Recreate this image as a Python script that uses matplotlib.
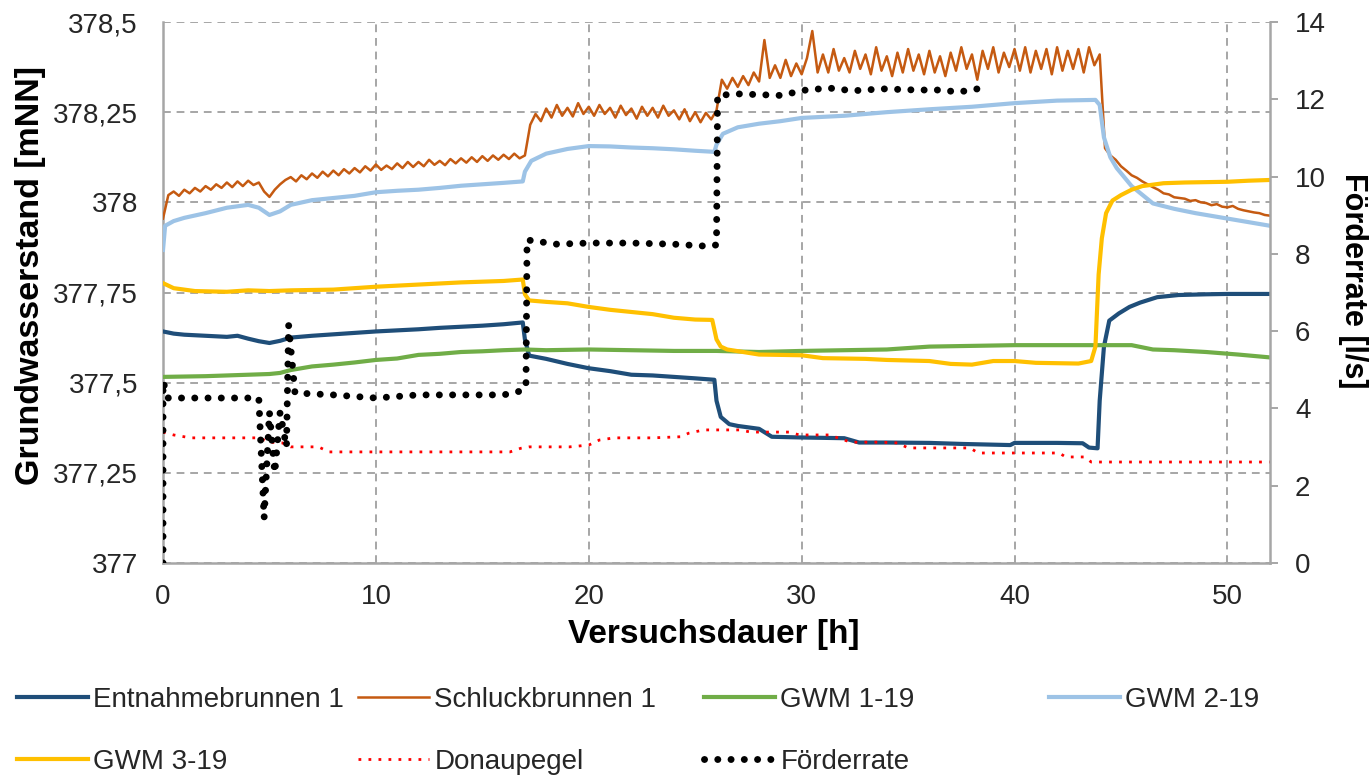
import numpy as np
import matplotlib
matplotlib.use("Agg")
import matplotlib.pyplot as plt

plt.rcParams['font.family'] = ['Liberation Sans', 'DejaVu Sans']

# ---------------- data ----------------
# Schluckbrunnen 1 (sampled every 0.25 h, 0 ... 52 h)
schluck_t = np.arange(0, 52.001, 0.25)
schluck = [
    377.955, 378.020, 378.030, 378.018,
    378.035, 378.025, 378.040, 378.030,
    378.045, 378.035, 378.050, 378.040,
    378.055, 378.042, 378.058, 378.045,
    378.060, 378.048, 378.055, 378.030,
    378.015, 378.035, 378.050, 378.062,
    378.070, 378.058, 378.075, 378.064,
    378.080, 378.068, 378.085, 378.072,
    378.088, 378.075, 378.092, 378.080,
    378.095, 378.083, 378.100, 378.088,
    378.105, 378.090, 378.102, 378.092,
    378.108, 378.095, 378.112, 378.098,
    378.112, 378.100, 378.118, 378.104,
    378.115, 378.103, 378.120, 378.108,
    378.122, 378.110, 378.125, 378.112,
    378.128, 378.115, 378.130, 378.118,
    378.132, 378.120, 378.135, 378.122,
    378.130, 378.215, 378.245, 378.225,
    378.260, 378.235, 378.270, 378.240,
    378.262, 378.238, 378.275, 378.245,
    378.265, 378.240, 378.270, 378.245,
    378.262, 378.235, 378.268, 378.242,
    378.260, 378.232, 378.265, 378.240,
    378.262, 378.235, 378.268, 378.240,
    378.255, 378.230, 378.258, 378.225,
    378.250, 378.222, 378.248, 378.230,
    378.255, 378.340, 378.315, 378.345,
    378.320, 378.350, 378.325, 378.360,
    378.335, 378.450, 378.345, 378.380,
    378.345, 378.395, 378.350, 378.385,
    378.355, 378.400, 378.475, 378.360,
    378.410, 378.360, 378.425, 378.365,
    378.400, 378.360, 378.420, 378.370,
    378.410, 378.355, 378.430, 378.365,
    378.405, 378.350, 378.415, 378.360,
    378.425, 378.365, 378.410, 378.355,
    378.420, 378.360, 378.405, 378.350,
    378.415, 378.365, 378.430, 378.370,
    378.410, 378.340, 378.420, 378.370,
    378.430, 378.360, 378.415, 378.375,
    378.425, 378.365, 378.430, 378.360,
    378.420, 378.370, 378.425, 378.355,
    378.430, 378.365, 378.420, 378.370,
    378.425, 378.360, 378.430, 378.380,
    378.410, 378.150, 378.130, 378.118,
    378.100, 378.088, 378.075, 378.068,
    378.058, 378.050, 378.042, 378.035,
    378.025, 378.022, 378.014, 378.012,
    378.010, 378.004, 378.006, 378.000,
    377.998, 377.992, 377.995, 377.988,
    377.986, 377.990, 377.982, 377.978,
    377.975, 377.972, 377.970, 377.965,
    377.963,
]

entnahme_t = [0, 0.5, 1, 2, 3, 3.5, 4, 4.5, 5, 5.5, 6, 7, 8, 9, 10, 11, 12, 13, 14, 15,
              16, 16.9, 17.0, 17.2, 18, 19, 20, 21, 22, 23, 24, 25, 25.9, 26.0, 26.2, 26.6,
              27, 28, 28.6, 30, 32, 32.7, 34, 36, 37.6, 39.8, 40, 42, 43.2, 43.5, 43.9, 44.0,
              44.2, 44.45, 44.9, 45.4, 45.9, 46.7, 47.7, 49, 50, 52]
entnahme = [377.642, 377.636, 377.633, 377.630, 377.627, 377.630, 377.622, 377.615, 377.610,
            377.616, 377.625, 377.630, 377.634, 377.638, 377.642, 377.645, 377.648, 377.652,
            377.655, 377.658, 377.662, 377.667, 377.620, 377.575, 377.566, 377.552, 377.540,
            377.532, 377.522, 377.520, 377.516, 377.512, 377.508, 377.450, 377.405, 377.385,
            377.380, 377.372, 377.350, 377.348, 377.346, 377.334, 377.334, 377.333, 377.330,
            377.327, 377.333, 377.333, 377.332, 377.320, 377.318, 377.450, 377.600, 377.672,
            377.692, 377.710, 377.722, 377.737, 377.743, 377.745, 377.746, 377.746]

gwm1_t = [0, 1, 2, 3, 4, 5, 5.5, 6, 7, 8, 9, 10, 11, 12, 13, 14, 15, 16, 17, 18,
          20, 22, 24, 26, 28, 30, 32, 34, 36, 38, 40, 42, 44, 45.5, 46.5, 47.5, 49, 50.5, 52]
gwm1 = [377.516, 377.517, 377.518, 377.520, 377.522, 377.524, 377.527, 377.535, 377.545,
        377.550, 377.556, 377.563, 377.567, 377.577, 377.580, 377.585, 377.587, 377.590,
        377.592, 377.590, 377.592, 377.590, 377.588, 377.588, 377.585, 377.588, 377.590,
        377.592, 377.600, 377.602, 377.604, 377.604, 377.604, 377.604, 377.592, 377.590,
        377.585, 377.578, 377.570]

gwm2_t = [0, 0.1, 0.5, 1, 2, 3, 4, 4.5, 5, 5.5, 6, 7, 8, 9, 10, 11, 12, 13, 14, 15,
          16, 16.9, 17.0, 17.3, 18, 19, 20, 21, 22, 23, 24, 25, 25.9, 26.0, 26.3, 27, 28, 29,
          30, 32, 34, 36, 38, 40, 42, 43.8, 44.0, 44.2, 44.5, 44.8, 45.5, 46.5, 47.5, 48.5,
          50, 51, 52]
gwm2 = [377.868, 377.935, 377.948, 377.957, 377.970, 377.985, 377.993, 377.985, 377.965,
        377.975, 377.993, 378.006, 378.012, 378.018, 378.028, 378.032, 378.035, 378.040,
        378.046, 378.050, 378.054, 378.058, 378.085, 378.115, 378.135, 378.148, 378.156,
        378.155, 378.152, 378.150, 378.147, 378.143, 378.140, 378.160, 378.190, 378.208,
        378.218, 378.225, 378.234, 378.240, 378.250, 378.258, 378.265, 378.275, 378.282,
        378.284, 378.270, 378.180, 378.125, 378.095, 378.045, 377.997, 377.982, 377.970,
        377.955, 377.945, 377.935]

gwm3_t = [0, 0.5, 1.5, 3, 4, 5, 6, 8, 10, 12, 14, 16, 16.9, 17.0, 17.2, 18, 19, 20, 21, 22,
          23, 24, 25, 25.8, 26.0, 26.2, 26.5, 28, 30, 31, 33, 34, 36, 37, 38, 39, 40, 41, 43,
          43.6, 43.8, 43.95, 44.1, 44.3, 44.6, 45, 45.5, 46, 47, 48, 49, 50, 51, 52]
gwm3 = [377.776, 377.762, 377.754, 377.752, 377.756, 377.754, 377.756, 377.758, 377.766,
        377.772, 377.778, 377.782, 377.786, 377.745, 377.728, 377.724, 377.720, 377.710,
        377.702, 377.696, 377.690, 377.680, 377.675, 377.674, 377.620, 377.600, 377.592,
        377.578, 377.576, 377.568, 377.566, 377.563, 377.560, 377.552, 377.550, 377.560,
        377.560, 377.555, 377.553, 377.560, 377.600, 377.800, 377.900, 377.970, 378.005,
        378.020, 378.035, 378.045, 378.053, 378.055, 378.056, 378.057, 378.060, 378.062]

donau_t = [0, 0.5, 1.3, 4.5, 5.0, 5.6, 6.0, 7.3, 7.8, 16.3, 16.8, 17.2, 19.1, 20.0, 20.5,
           21.2, 23.0, 24.3, 24.7, 25.4, 27.1, 27.6, 29.4, 29.9, 31.3, 32.3, 33.7, 34.5,
           35.0, 37.9, 38.3, 42.1, 42.4, 43.3, 43.6, 52]
donau = [377.363, 377.355, 377.347, 377.347, 377.335, 377.333, 377.322, 377.322, 377.308,
         377.308, 377.318, 377.322, 377.322, 377.327, 377.341, 377.347, 377.347, 377.350,
         377.360, 377.369, 377.369, 377.363, 377.363, 377.355, 377.355, 377.335, 377.335,
         377.333, 377.319, 377.319, 377.305, 377.305, 377.294, 377.294, 377.280, 377.280]

foerder_t = [0, 0, 0.25, 4.5, 4.75, 5.0, 5.25, 5.5, 5.8, 5.9, 6.2, 8, 10, 12, 14, 16, 16.8,
             17.05, 17.1, 18.5, 20, 22, 24, 25.5, 26.0, 26.05, 27, 29, 30.2, 31.3, 32.4,
             33.8, 35.4, 36.4, 37.4, 38.8]
foerder = [0, 4.7, 4.27, 4.27, 1.16, 3.9, 2.33, 3.9, 3.0, 6.16, 4.4, 4.35, 4.27, 4.35, 4.35,
           4.35, 4.45, 4.55, 8.36, 8.25, 8.28, 8.28, 8.25, 8.2, 8.23, 12.1, 12.14, 12.1,
           12.24, 12.29, 12.22, 12.27, 12.24, 12.24, 12.19, 12.32]

x_ticks = [0, 10, 20, 30, 40, 50]
y_ticks = [377, 377.25, 377.5, 377.75, 378, 378.25, 378.5]
y_ticklabels = ['377', '377,25', '377,5', '377,75', '378', '378,25', '378,5']
y2_ticks = [0, 2, 4, 6, 8, 10, 12, 14]

# ---------------- figure ----------------
W, H = 1371, 779
fig = plt.figure(figsize=(W / 100, H / 100), dpi=100)
L, R, T, B = 163, 1270, 22, 563
ax = fig.add_axes([L / W, 1 - B / H, (R - L) / W, (B - T) / H])
ax2 = ax.twinx()

grey = '#A6A6A6'
tick_col = '#262626'

h1, = ax.plot(entnahme_t, entnahme, color='#1F4E79', lw=3.0, label='Entnahmebrunnen 1', zorder=3)
h2, = ax.plot(schluck_t, schluck, color='#C55A11', lw=1.8, label='Schluckbrunnen 1', zorder=3)
h3, = ax.plot(gwm1_t, gwm1, color='#70AD47', lw=3.0, label='GWM 1-19', zorder=3)
h4, = ax.plot(gwm2_t, gwm2, color='#9DC3E6', lw=3.0, label='GWM 2-19', zorder=3)
h5, = ax.plot(gwm3_t, gwm3, color='#FFC000', lw=3.0, label='GWM 3-19', zorder=3)
h6, = ax.plot(donau_t, donau, color='#FF0000', lw=2.0, linestyle=(0, (1, 2.6)),
              dash_capstyle='butt', label='Donaupegel', zorder=3)
h7, = ax2.plot(foerder_t, foerder, color='black', lw=5.0, linestyle=(0, (0.01, 1.9)),
               dash_capstyle='round', solid_capstyle='round', label='Förderrate', zorder=4)

ax.set_xlim(0, 52)
ax.set_ylim(377, 378.5)
ax2.set_ylim(0, 14)
ax.set_xticks(x_ticks)
ax.set_yticks(y_ticks)
ax.set_yticklabels(y_ticklabels)
ax2.set_yticks(y2_ticks)

ax.set_axisbelow(True)
ax.grid(True, color=grey, linestyle=(0, (4, 3)), linewidth=1.4)
ax2.grid(False)

for a in (ax, ax2):
    for s in a.spines.values():
        s.set_visible(False)
ax.spines['left'].set_visible(True)
ax.spines['bottom'].set_visible(True)
ax2.spines['right'].set_visible(True)
for s in (ax.spines['left'], ax.spines['bottom'], ax2.spines['right']):
    s.set_color(grey)
    s.set_linewidth(1.8)

ax.tick_params(axis='both', length=0, labelsize=20, colors=tick_col)
ax.tick_params(axis='y', pad=18)
ax.tick_params(axis='x', pad=15)
ax2.tick_params(axis='y', length=6, width=1.4, color=grey, direction='out',
                labelsize=20, labelcolor=tick_col, pad=12)

ax.set_xlabel('Versuchsdauer [h]', fontsize=24, fontweight='bold', va='center')
ax.xaxis.set_label_coords((714 - L) / (R - L), (B - 634) / (B - T))
ax.set_ylabel('Grundwasserstand [mNN]', fontsize=24.5, fontweight='bold', va='center')
ax.yaxis.set_label_coords((31 - L) / (R - L), (B - 276) / (B - T))
ax2.set_ylabel('Förderrate [l/s]', fontsize=22, fontweight='bold', rotation=-90, va='center')
ax2.yaxis.set_label_coords((1353 - L) / (R - L), (B - 281) / (B - T))

# legend: four equal-width columns, two rows
cols = [[h1, h5], [h2, h6], [h3, h7], [h4]]
col_x = [17, 358, 704, 1049]
for handles, cx in zip(cols, col_x):
    fig.legend(handles=handles, labels=[h.get_label() for h in handles],
               loc='upper left', bbox_to_anchor=(cx / W, 1 - 687 / H),
               frameon=False, fontsize=20, handlelength=2.55, handletextpad=0.2,
               labelspacing=1.3, borderpad=0, borderaxespad=0, labelcolor=tick_col)

fig.savefig('out.png', dpi=100)
